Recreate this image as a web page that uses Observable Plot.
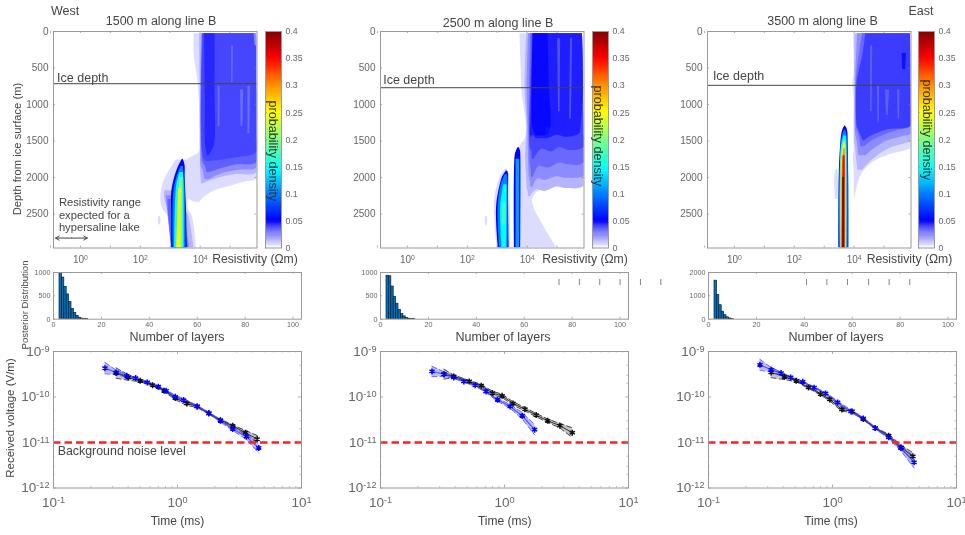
<!DOCTYPE html>
<html>
<head>
<meta charset="utf-8">
<script src="https://cdn.jsdelivr.net/npm/d3@7"></script>
<script src="https://cdn.jsdelivr.net/npm/@observablehq/plot@0.6"></script>
<style>
html,body{margin:0;padding:0;background:#fff;}
#page{position:relative;width:965px;height:535px;overflow:hidden;background:#fff;font-family:"Liberation Sans",Arial,sans-serif;filter:blur(0.55px);}
#page svg{position:absolute;overflow:visible;background:transparent;}
.lab{position:absolute;white-space:nowrap;transform-origin:center;line-height:1;}
</style>
</head>
<body>
<div id="page"></div>
<script>
// ---------- probability-density colour scale ----------
const densityLevels = [0,0.005,0.015,0.025,0.035,0.042,0.05,0.1,0.145,0.2,0.25,0.3,0.35,0.4];
const densityColors = ["#ffffff","#dcdcff","#b4b4ff","#8c8cff","#6060ff","#3c3cff","#0000ff","#0080ff","#00ffff","#80ff80","#ffff00","#ff9000","#ff0000","#800000"];
const colorbarTicks = [0,0.05,0.1,0.15,0.2,0.25,0.3,0.35,0.4];

// ---------- depth/resistivity regions: [depth m, log10 left edge, log10 right edge] ----------
const westIce = 715, midIce = 770, eastIce = 737;

const westL1 = [[30,3.80,5.85],[300,3.80,5.9],[700,3.93,5.9],[1300,4.0,5.9],[1650,3.98,5.9],[1750,3.6,5.9],[1850,3.45,5.9],[2020,3.3,5.9],[2060,3.3,5.5],[2120,3.35,5.0],[2180,3.4,4.5],[2280,3.55,4.1],[2340,3.85,4.0]];
const westL1b = [[1760,3.2,3.65],[2100,2.75,3.7],[2400,2.72,3.6],[2550,2.95,3.75],[2965,3.05,3.88]];
const westSpeck = [[2530,2.62,2.66],[2590,2.6,2.7],[2650,2.62,2.66]];
const westL2 = [[30,3.98,5.85],[700,4.0,5.9],[1500,4.0,5.9],[1933,4.02,5.9],[1960,4.02,5.2],[2000,4.03,4.7],[2050,4.04,4.3],[2090,4.05,4.08]];
const westL2b = [[2180,2.82,3.3],[2300,2.82,3.45],[2450,2.95,3.5],[2500,3.0,3.6],[2700,3.05,3.7],[2965,3.05,3.8]];
const westL3 = [[30,4.05,5.85],[1500,4.02,5.9],[1865,4.05,5.9],[1900,4.1,5.3],[1950,4.12,4.7],[2030,4.17,4.3]];
const westL3b = [[2250,2.87,3.3],[2400,2.9,3.4],[2965,3.05,3.66]];
const westL4 = [[30,4.08,5.85],[1500,4.05,5.9],[1795,4.1,5.9],[1830,4.15,5.2],[1880,4.2,4.7],[1930,4.22,4.35]];
const westL4b = [[2300,2.93,3.3],[2400,2.93,3.4],[2965,3.05,3.6]];
const westMain = [[30,4.1,5.85],[50,4.1,5.88],[700,4.05,5.9],[1650,4.08,5.9],[1730,4.12,5.2],[1780,4.2,4.4]];
const westDark = [[30,4.15,4.5],[900,4.17,4.5],[1550,4.18,4.48],[1700,4.24,4.3]];
const westPale1 = [[750,4.6,4.67],[1300,4.6,4.66]];
const westPale2 = [[800,5.35,5.45],[1300,5.37,5.43]];
const westPale3 = [[750,5.6,5.68],[1400,5.6,5.66]];
const westPale4 = [[30,5.8,5.9],[200,5.84,5.9]];
const westPale5 = [[200,5.05,5.12],[700,5.05,5.1]];
const westR05 = [[1750,3.41,3.43],[1790,3.35,3.47],[1850,3.28,3.5],[2000,3.15,3.5],[2200,3.05,3.52],[2500,3.05,3.55],[2965,3.05,3.57]];
const westR10 = [[1850,3.36,3.44],[2000,3.22,3.47],[2200,3.12,3.5],[2965,3.1,3.53]];
const westR15 = [[1930,3.33,3.44],[2100,3.22,3.46],[2965,3.15,3.47]];
const westR20 = [[2000,3.32,3.42],[2965,3.2,3.42]];
const westR25 = [[2150,3.28,3.37],[2500,3.26,3.36],[2965,3.24,3.36]];
const westBands = [[0.005,westL1],[0.005,westL1b],[0.005,westSpeck],[0.015,westL2],[0.015,westL2b],[0.025,westL3],[0.025,westL3b],[0.035,westL4],[0.035,westL4b],[0.04,westMain],[0.045,westDark],[0.032,westPale1],[0.032,westPale2],[0.032,westPale3],[0.025,westPale4],[0.034,westPale5],[0.05,westR05],[0.1,westR10],[0.15,westR15],[0.2,westR20],[0.25,westR25]];

const midL1 = [[30,3.76,5.85],[500,3.8,5.9],[800,3.82,5.9],[1300,3.98,5.9],[1450,3.95,5.9],[1600,3.75,5.9],[2000,3.72,5.9],[2040,3.75,5.7],[2080,3.75,4.9],[2270,3.75,4.2],[2400,3.75,4.22],[2700,3.75,4.6],[2965,3.75,5.0]];
const midHalo = [[1880,3.3,3.33],[1960,3.14,3.4],[2300,2.92,3.44],[2965,3.0,3.44]];
const midSpeck = [[2530,2.62,2.67],[2600,2.6,2.68],[2660,2.62,2.66]];
const midL2 = [[30,3.99,5.85],[800,3.93,5.88],[1300,4.0,5.9],[1700,3.95,5.9],[2120,4.0,5.9],[2150,4.0,5.3],[2130,4.0,5.0],[2190,4.02,4.6],[2170,4.03,4.3],[2260,4.05,4.12]];
const midL3 = [[30,4.05,5.85],[800,4.0,5.88],[1300,4.03,5.9],[1800,4.05,5.9],[1980,4.07,5.9],[2010,4.07,5.3],[1990,4.08,5.0],[2040,4.1,4.6],[2020,4.1,4.35],[2130,4.12,4.2]];
const midL4 = [[30,4.12,5.85],[800,4.08,5.88],[1350,4.07,5.9],[1800,4.1,5.9],[1830,4.1,5.4],[1800,4.11,5.1],[1870,4.12,4.7],[1850,4.13,4.4],[2000,4.15,4.2]];
const midL5 = [[30,4.17,5.85],[800,4.12,5.88],[1380,4.08,5.9],[1590,4.1,5.9],[1630,4.12,5.4],[1590,4.13,5.1],[1650,4.15,4.8],[1610,4.16,4.5],[1750,4.17,4.23]];
const midMain = [[30,4.21,5.85],[800,4.15,5.88],[1300,4.12,5.8],[1405,4.1,5.75],[1450,4.15,5.3],[1420,4.2,5.0],[1470,4.3,4.7]];
const midDark = [[30,4.2,4.7],[800,4.17,4.75],[1330,4.2,4.78],[1430,4.3,4.6]];
const midPale1 = [[100,5.02,5.12],[1100,5.05,5.1]];
const midPale2 = [[100,5.45,5.52],[1200,5.42,5.48]];
const midSpot = [[1300,4.65,4.72],[1360,4.62,4.75],[1420,4.65,4.72]];
const midA05 = [[1911,3.31,3.34],[1950,3.24,3.38],[2000,3.17,3.38],[2400,2.98,3.38],[2965,3.04,3.4]];
const midA10 = [[1960,3.27,3.34],[2100,3.13,3.36],[2400,3.03,3.36],[2965,3.08,3.36]];
const midA15 = [[2100,3.22,3.33],[2400,3.12,3.33],[2965,3.16,3.32]];
const midA20 = [[2350,3.18,3.3],[2650,3.18,3.3]];
const midB05 = [[1590,3.7,3.73],[1640,3.64,3.78],[1700,3.6,3.79],[2965,3.58,3.79]];
const midB10 = [[1750,3.63,3.75],[2965,3.63,3.75]];
const midBands = [[0.005,midL1],[0.005,midHalo],[0.005,midSpeck],[0.015,midL2],[0.025,midL3],[0.033,midL4],[0.04,midL5],[0.046,midMain],[0.049,midDark],[0.038,midPale1],[0.038,midPale2],[0.06,midSpot],[0.05,midA05],[0.1,midA10],[0.145,midA15],[0.17,midA20],[0.05,midB05],[0.11,midB10]];

const eastL1 = [[30,3.98,5.85],[600,4.0,5.9],[700,3.95,5.9],[900,4.0,5.9],[1300,3.99,5.9],[1600,4.0,5.9],[1630,4.0,5.75],[1700,3.98,5.1],[1800,3.98,4.6],[1900,4.0,4.35],[2000,4.0,4.2],[2276,4.01,4.03]];
const eastBump = [[1890,3.4,3.45],[2000,3.35,3.47],[2300,3.38,3.47]];
const eastL2 = [[30,4.03,5.88],[700,4.02,5.9],[1500,4.02,5.9],[1518,4.02,5.85],[1600,4.05,5.2],[1700,4.07,4.8],[1800,4.1,4.5],[1900,4.12,4.28]];
const eastL3 = [[30,4.12,5.88],[700,4.05,5.9],[1400,4.05,5.9],[1440,4.07,5.6],[1500,4.1,5.1],[1600,4.13,4.7],[1700,4.16,4.4]];
const eastL4 = [[30,4.28,5.88],[700,4.07,5.9],[1300,4.08,5.9],[1350,4.1,5.5],[1420,4.15,5.0],[1500,4.2,4.6],[1580,4.23,4.35]];
const eastMain = [[30,4.39,5.88],[300,4.3,5.9],[700,4.1,5.9],[1000,4.08,5.9],[1295,4.1,5.9],[1350,4.15,5.1],[1450,4.25,4.5],[1500,4.3,4.35]];
const eastPale1 = [[750,4.78,4.85],[1250,4.8,4.84]];
const eastPale2 = [[200,4.55,4.62],[1100,4.55,4.6]];
const eastPale3 = [[800,5.05,5.18],[1150,5.08,5.14]];
const eastPale4 = [[800,5.45,5.53],[1200,5.47,5.52]];
const eastDarkA = [[300,5.6,5.75],[520,5.62,5.72]];
const eastR05 = [[1295,3.69,3.71],[1330,3.64,3.76],[1380,3.6,3.79],[1500,3.56,3.8],[2000,3.5,3.82],[2965,3.49,3.83]];
const eastR10 = [[1350,3.68,3.72],[1450,3.6,3.77],[2000,3.53,3.8],[2965,3.52,3.8]];
const eastR15 = [[1430,3.66,3.74],[1600,3.57,3.76],[2965,3.55,3.77]];
const eastR20 = [[1500,3.65,3.72],[1700,3.58,3.74],[2965,3.57,3.75]];
const eastR25 = [[1520,3.66,3.71],[1800,3.59,3.73],[2965,3.58,3.73]];
const eastR30 = [[1600,3.66,3.7],[1900,3.6,3.72],[2965,3.59,3.72]];
const eastR35 = [[1700,3.63,3.7],[2965,3.6,3.7]];
const eastR40 = [[2000,3.62,3.68],[2965,3.62,3.67]];
const eastBands = [[0.005,eastL1],[0.005,eastBump],[0.015,eastL2],[0.025,eastL3],[0.033,eastL4],[0.042,eastMain],[0.035,eastPale1],[0.035,eastPale2],[0.035,eastPale3],[0.035,eastPale4],[0.048,eastDarkA],[0.05,eastR05],[0.1,eastR10],[0.145,eastR15],[0.2,eastR20],[0.25,eastR25],[0.3,eastR30],[0.35,eastR35],[0.4,eastR40]];

// ---------- number-of-layers histograms ----------
const layerCounts = [3,4,5,6,7,8,9,10,11,12,13,14];
const westPosterior = [1050,890,690,530,370,220,130,70,30,12,5,2];
const midPosterior  = [930,920,700,480,330,200,110,60,25,10,3,3];
const eastPosterior = [1650,1030,600,320,170,80,30,10,0,0,0,0];
const midStrayTicks  = [74.5,83,91.5,100,108.5,117];
const eastStrayTicks = [40.9,49.4,58,66.8,75.4,84];

// ---------- received voltage decays ----------
const westTimeBlue = [0.26,0.32,0.39,0.46,0.57,0.70,0.81,0.96,1.12,1.44,1.79,2.22,2.79,3.6,4.52];
const westBlue = [4.31e-10,3.46e-10,2.92e-10,2.6e-10,2.09e-10,1.68e-10,1.37e-10,1.01e-10,8.55e-11,6.21e-11,4.43e-11,3.0e-11,1.98e-11,1.34e-11,7.6e-12];
const westBlueErr = [1.33,1.12,1.07,1.05,1.05,1.05,1.06,1.07,1.08,1.05,1.05,1.06,1.08,1.15,1.3];
const westTimeBlack = [0.32,0.40,0.50,0.63,0.78,0.96,1.19,1.44,1.79,2.22,2.79,3.53,4.39];
const westBlack = [3.35e-10,2.69e-10,2.27e-10,1.82e-10,1.37e-10,9.46e-11,7.22e-11,6.21e-11,4.33e-11,3.1e-11,2.33e-11,1.64e-11,1.19e-11];
const westBlackErr = [1.3,1.15,1.05,1.05,1.05,1.08,1.12,1.05,1.04,1.04,1.05,1.12,1.2];

const midTimeBlue = [0.26,0.325,0.39,0.47,0.58,0.71,0.88,1.11,1.39,1.75];
const midBlue = [3.64e-10,3.18e-10,2.69e-10,2.2e-10,1.82e-10,1.32e-10,8.7e-11,6.2e-11,3.87e-11,1.91e-11];
const midBlueErr = [1.3,1.12,1.05,1.05,1.05,1.06,1.08,1.1,1.18,1.3];
const midTimeBlack = [0.325,0.39,0.52,0.65,0.80,0.957,1.17,1.46,1.80,2.23,2.8,3.52];
const midBlack = [3.18e-10,2.83e-10,2.2e-10,1.77e-10,1.22e-10,1.06e-10,7.2e-11,5.4e-11,4.0e-11,3.0e-11,2.34e-11,1.64e-11];
const midBlackErr = [1.28,1.07,1.05,1.07,1.09,1.09,1.09,1.09,1.09,1.09,1.12,1.28];

const eastTimeBlue = [0.26,0.32,0.385,0.46,0.575,0.71,0.88,1.10,1.41,1.77,2.21,2.84,3.55,4.55];
const eastBlue = [5.1e-10,3.96e-10,3.35e-10,2.69e-10,2.16e-10,1.6e-10,1.2e-10,7.6e-11,4.82e-11,3.39e-11,2.08e-11,1.3e-11,7.6e-12,3.66e-12];
const eastBlueErr = [1.32,1.12,1.05,1.04,1.04,1.05,1.05,1.07,1.07,1.05,1.05,1.07,1.15,1.33];
const eastTimeBlack = [0.32,0.41,0.51,0.64,0.80,0.95,1.19,1.44,1.77,2.21,2.84,3.58,4.45];
const eastBlack = [3.46e-10,2.78e-10,2.27e-10,1.62e-10,1.16e-10,8.85e-11,5.33e-11,4.82e-11,3.27e-11,2.08e-11,1.41e-11,7.8e-12,4.97e-12];
const eastBlackErr = [1.3,1.15,1.05,1.05,1.05,1.08,1.1,1.05,1.05,1.04,1.07,1.12,1.2];
const noiseLevel = 1e-11;

// ---------- axis ticks ----------
const depthTicks = [0,500,1000,1500,2000,2500];
const resistivityTicks = [1,100,10000];
const resistivityMinor = [0.1,1,10,100,1000,10000,100000];
const layerTicks = [0,20,40,60,80,100];
const timeTicks = [0.1,1,10];
const timeMinor = [0.2,0.3,0.4,0.5,0.6,0.7,0.8,0.9,2,3,4,5,6,7,8,9];
const voltageTicks = [1e-9,1e-10,1e-11,1e-12];
const voltageMinor = [2e-10,3e-10,5e-10,2e-11,3e-11,5e-11,2e-12,3e-12,5e-12];

// ---------- helpers ----------
const page = document.getElementById("page");
const FONT = '"Liberation Sans",Arial,sans-serif';
const FRAME = "#9a9a9a", TICK = "#777", TXT = "#666", DARK = "#444";
const pow10 = d => "10^" + Math.round(Math.log10(d));

function label(text, x, y, size, opts = {}) {
  const d = document.createElement("div");
  d.className = "lab";
  d.textContent = text;
  d.style.left = x + "px";
  d.style.top = y + "px";
  d.style.fontSize = size + "px";
  d.style.color = opts.color || DARK;
  d.style.transform = `translate(-50%,-50%) rotate(${opts.rotate || 0}deg)`;
  page.appendChild(d);
}
function place(plot, frameLeft, frameTop, m) {
  plot.style.left = (frameLeft - m.marginLeft) + "px";
  plot.style.top = (frameTop - m.marginTop) + "px";
  // turn "10^-9" tick labels into real superscripts
  plot.querySelectorAll("text").forEach(t => {
    const hit = /^10\^(-?\d+)$/.exec(t.textContent);
    if (!hit) return;
    t.textContent = "10";
    const sup = document.createElementNS("http://www.w3.org/2000/svg", "tspan");
    sup.setAttribute("dy", "-0.42em");
    sup.setAttribute("font-size", "0.68em");
    sup.textContent = hit[1];
    t.appendChild(sup);
  });
  page.appendChild(plot);
}
const base = {style:{fontFamily:FONT,fontSize:"10px",color:TXT,background:"transparent"}};

function heatPanel(bands, ice, frameLeft, iceLabelDepth, iceLabelLog, extras = []) {
  const m = {marginLeft:36, marginTop:2, marginRight:2, marginBottom:20};
  const W = 203.5, H = 216.5;
  const marks = [];
  for (const [lvl, rows] of bands) {
    marks.push(Plot.areaX(rows, {x1:d=>10**d[1], x2:d=>10**d[2], y:d=>d[0], fill:()=>lvl, curve:"catmull-rom", clip:true}));
  }
  marks.push(
    Plot.ruleY([ice], {stroke:"#444", strokeWidth:1}),
    Plot.text(["Ice depth"], {x:()=>10**iceLabelLog, y:()=>iceLabelDepth, text:d=>d, textAnchor:"start", fontSize:12.5, fill:DARK}),
    ...extras,
    Plot.tickY(depthTicks, {y:d=>d, insetRight:W-2, stroke:TICK, strokeWidth:.6}),
    Plot.tickY(depthTicks, {y:d=>d, insetLeft:W-2, stroke:TICK, strokeWidth:.6}),
    Plot.tickX(resistivityMinor, {x:d=>d, insetTop:H-2, stroke:TICK, strokeWidth:.6}),
    Plot.tickX(resistivityMinor, {x:d=>d, insetBottom:H-2, stroke:TICK, strokeWidth:.6}),
    Plot.axisX(resistivityTicks, {anchor:"bottom", tickSize:0, tickPadding:8, tickFormat:pow10, fontSize:10, label:null}),
    Plot.axisY(depthTicks, {anchor:"left", tickSize:0, tickPadding:5, fontSize:10, label:null, tickFormat:d=>String(d)}),
    Plot.frame({stroke:FRAME, strokeWidth:1})
  );
  const p = Plot.plot({...base, ...m, width:W+m.marginLeft+m.marginRight, height:H+m.marginTop+m.marginBottom,
    x:{type:"log", domain:[10**-0.9,10**5.9], axis:null},
    y:{domain:[0,2965], reverse:true, axis:null},
    color:{type:"linear", domain:densityLevels, range:densityColors, clamp:true},
    marks});
  place(p, frameLeft, 30.5, m);
}
function colorbar(left) {
  const m = {marginLeft:1, marginTop:2, marginRight:26, marginBottom:8};
  const W = 16, H = 216.5;
  const steps = d3.range(0,0.4,0.002);
  const p = Plot.plot({...base, ...m, width:W+m.marginLeft+m.marginRight, height:H+m.marginTop+m.marginBottom,
    x:{domain:[0,1], axis:null},
    y:{domain:[0,0.4], axis:null},
    color:{type:"linear", domain:densityLevels, range:densityColors, clamp:true},
    marks:[
      Plot.rect(steps, {x1:()=>0, x2:()=>1, y1:d=>d, y2:d=>d+0.006, fill:d=>d+0.001, shapeRendering:"crispEdges", clip:true}),
      Plot.tickY(colorbarTicks, {y:d=>d, insetRight:W-2, stroke:"#777", strokeWidth:.5}),
      Plot.axisY(colorbarTicks, {anchor:"right", tickSize:0, tickPadding:4, fontSize:8.8, label:null, tickFormat:d=>String(d)}),
      Plot.frame({stroke:FRAME, strokeWidth:1})
    ]});
  place(p, left, 30.5, m);
}
function histPanel(counts, yMax, yTicks, frameLeft, frameTop, stray = []) {
  const m = {marginLeft:26, marginTop:2, marginRight:stray.length?42:2, marginBottom:14};
  const W = 248, H = 46.7;
  const rows = layerCounts.map((n,i) => ({n, c:counts[i]})).filter(d => d.c > 0);
  const p = Plot.plot({...base, ...m, width:W+m.marginLeft+m.marginRight, height:H+m.marginTop+m.marginBottom,
    x:{domain:[0,103.5], axis:null},
    y:{domain:[0,yMax], axis:null},
    marks:[
      Plot.rectY(rows, {x1:d=>d.n-0.5, x2:d=>d.n+0.5, y1:()=>0, y2:d=>d.c, fill:"#0072bd", stroke:"#0a1a2a", strokeWidth:.7, clip:true}),
      Plot.ruleX(stray, {x:d=>d, y1:()=>yMax*0.72, y2:()=>yMax*0.85, stroke:"#666", strokeWidth:.8}),
      Plot.tickX(layerTicks, {x:d=>d, insetTop:H-2, stroke:TICK, strokeWidth:.6}),
      Plot.tickX(layerTicks, {x:d=>d, insetBottom:H-2, stroke:TICK, strokeWidth:.6}),
      Plot.tickY(yTicks, {y:d=>d, insetRight:W-2, stroke:TICK, strokeWidth:.6}),
      Plot.axisX(layerTicks, {anchor:"bottom", tickSize:0, tickPadding:3, fontSize:7.2, label:null, tickFormat:d=>String(d)}),
      Plot.axisY(yTicks, {anchor:"left", tickSize:0, tickPadding:3, fontSize:7.2, label:null, tickFormat:d=>String(d)}),
      Plot.frame({stroke:FRAME, strokeWidth:1})
    ]});
  place(p, frameLeft, frameTop, m);
}
function voltagePanel(tB, vB, eB, tK, vK, eK, frameLeft, extras = []) {
  const m = {marginLeft:46, marginTop:8, marginRight:16, marginBottom:28};
  const W = 248, H = 136.5;
  const blue = tB.map((t,i)=>({t, v:vB[i], hi:vB[i]*eB[i], lo:vB[i]/eB[i]}));
  const black = tK.map((t,i)=>({t, v:vK[i], hi:vK[i]*eK[i], lo:vK[i]/eK[i]}));
  const p = Plot.plot({...base, ...m, width:W+m.marginLeft+m.marginRight, height:H+m.marginTop+m.marginBottom,
    x:{type:"log", domain:[0.1,10], axis:null},
    y:{type:"log", domain:[1e-12,1e-9], axis:null},
    marks:[
      Plot.areaY(black, {x:"t", y1:"lo", y2:"hi", fill:"#555", fillOpacity:.35}),
      Plot.lineY(black, {x:"t", y:"hi", stroke:"#222", strokeWidth:.8, strokeDasharray:"5,3"}),
      Plot.lineY(black, {x:"t", y:"lo", stroke:"#222", strokeWidth:.8, strokeDasharray:"5,3"}),
      Plot.areaY(blue, {x:"t", y1:"lo", y2:"hi", fill:"#6a6aff", fillOpacity:.45}),
      Plot.lineY(blue, {x:"t", y:"hi", stroke:"#5a5aff", strokeWidth:.9, strokeDasharray:"5,3"}),
      Plot.lineY(blue, {x:"t", y:"lo", stroke:"#5a5aff", strokeWidth:.9, strokeDasharray:"5,3"}),
      Plot.lineY(black, {x:"t", y:"v", stroke:"#333", strokeWidth:1}),
      Plot.lineY(blue, {x:"t", y:"v", stroke:"#3a3aff", strokeWidth:1.2, strokeOpacity:.8}),
      Plot.dot(black, {x:"t", y:"v", symbol:"asterisk", r:2.8, stroke:"#111", strokeWidth:1.5}),
      Plot.dot(blue, {x:"t", y:"v", symbol:"asterisk", r:2.8, stroke:"#0000ff", strokeWidth:1.5}),
      Plot.ruleY([noiseLevel], {stroke:"#ff2020", strokeWidth:2.4, strokeDasharray:"7.5,4"}),
      ...extras,
      Plot.tickX(timeTicks, {x:d=>d, insetTop:H-3, stroke:TICK, strokeWidth:.6}),
      Plot.tickX(timeTicks, {x:d=>d, insetBottom:H-3, stroke:TICK, strokeWidth:.6}),
      Plot.tickX(timeMinor, {x:d=>d, insetTop:H-1.5, stroke:TICK, strokeWidth:.5}),
      Plot.tickX(timeMinor, {x:d=>d, insetBottom:H-1.5, stroke:TICK, strokeWidth:.5}),
      Plot.tickY(voltageTicks, {y:d=>d, insetRight:W-3, stroke:TICK, strokeWidth:.6}),
      Plot.tickY(voltageTicks, {y:d=>d, insetLeft:W-3, stroke:TICK, strokeWidth:.6}),
      Plot.tickY(voltageMinor, {y:d=>d, insetRight:W-1.5, stroke:TICK, strokeWidth:.5}),
      Plot.tickY(voltageMinor, {y:d=>d, insetLeft:W-1.5, stroke:TICK, strokeWidth:.5}),
      Plot.axisX(timeTicks, {anchor:"bottom", tickSize:0, tickPadding:9, fontSize:13.5, label:null, tickFormat:pow10}),
      Plot.axisY(voltageTicks, {anchor:"left", tickSize:0, tickPadding:4, fontSize:13.5, label:null, tickFormat:pow10}),
      Plot.frame({stroke:FRAME, strokeWidth:1})
    ]});
  place(p, frameLeft, 350.7, m);
}

// ---------- build ----------
const arrowDepth = 2829;
const westExtras = [
  Plot.text(["Resistivity range\nexpected for a\nhypersaline lake"], {x:()=>10**-0.72, y:()=>2510, text:d=>d, textAnchor:"start", lineHeight:1.12, fontSize:11.2, fill:DARK}),
  Plot.arrow([{a:10**-0.3,b:10**-0.83},{a:10**-0.3,b:10**0.23}], {x1:"a", x2:"b", y1:()=>arrowDepth, y2:()=>arrowDepth, stroke:"#444", strokeWidth:1, headLength:6})
];
heatPanel(westBands, westIce, 53, 630, -0.78, westExtras);
heatPanel(midBands, midIce, 380.3, 665, -0.81);
heatPanel(eastBands, eastIce, 707.3, 610, -0.72);
colorbar(265); colorbar(592); colorbar(918);

histPanel(westPosterior, 1000, [0,500,1000], 53, 272);
histPanel(midPosterior, 1000, [0,500,1000], 380, 272, midStrayTicks);
histPanel(eastPosterior, 2000, [0,1000,2000], 707.7, 272, eastStrayTicks);

voltagePanel(westTimeBlue, westBlue, westBlueErr, westTimeBlack, westBlack, westBlackErr, 53,
  [Plot.text(["Background noise level"], {x:()=>0.108, y:()=>10**-11.19, text:d=>d, textAnchor:"start", fontSize:12.4, fill:DARK})]);
voltagePanel(midTimeBlue, midBlue, midBlueErr, midTimeBlack, midBlack, midBlackErr, 380.3);
voltagePanel(eastTimeBlue, eastBlue, eastBlueErr, eastTimeBlack, eastBlack, eastBlackErr, 707.7);

// titles and axis names
label("West", 65, 11, 12.5);
label("East", 921, 11, 12.5);
label("1500 m along line B", 161, 20.7, 12.5);
label("2500 m along line B", 498, 23.3, 12.5);
label("3500 m along line B", 822.5, 20.7, 12.5);
label("Depth from ice surface (m)", 18, 149, 11.2, {rotate:-90});
label("Posterior Distribution", 25, 305, 9.6, {rotate:-90});
label("Received voltage (V/m)", 11, 418, 11.5, {rotate:-90});
for (const x of [255,585,909.5]) label("Resistivity (\u03A9m)", x, 259, 12.2);
for (const x of [177,503,836]) label("Number of layers", x, 336.5, 12.5);
for (const x of [177.5,504.7,831]) label("Time (ms)", x, 520.7, 12);
label("probability density", 273, 151, 12.6, {rotate:90, color:"#333"});
label("probability density", 598, 136, 12.6, {rotate:90, color:"#333"});
label("probability density", 927, 130, 12.6, {rotate:90, color:"#333"});
</script>
</body>
</html>
